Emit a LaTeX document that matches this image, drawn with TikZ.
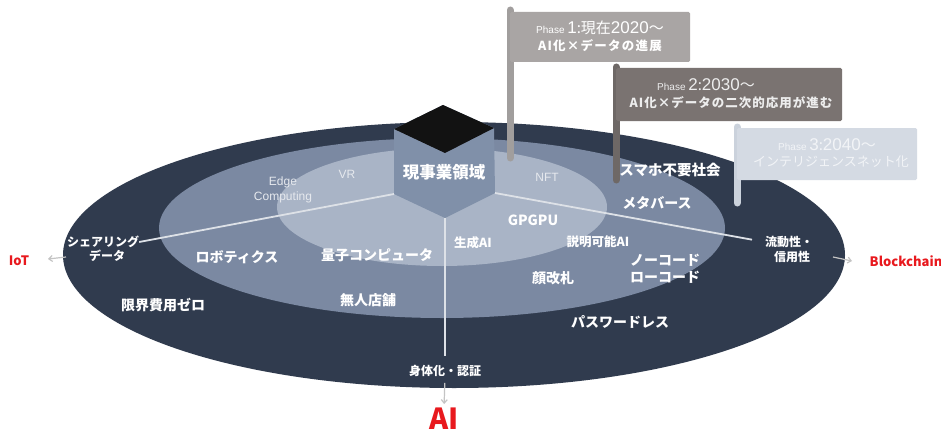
\documentclass[tikz,border=0pt]{standalone}
\usepackage{fontspec}
\setmainfont{Noto Sans CJK JP}
\newfontfamily\arialf{Liberation Sans}
\usetikzlibrary{arrows.meta}
\definecolor{outerc}{HTML}{303B4E}
\definecolor{midc}{HTML}{7B89A2}
\definecolor{hexc}{HTML}{8090A9}
\definecolor{lightc}{HTML}{A9B4C6}
\definecolor{spokec}{HTML}{DDE1E7}
\definecolor{arrc}{HTML}{C4C4C4}
\definecolor{redc}{HTML}{E8191E}
\definecolor{pA}{HTML}{A9A5A4}
\definecolor{pApole}{HTML}{A19E9D}
\definecolor{pB}{HTML}{7A7371}
\definecolor{pBpole}{HTML}{6E6866}
\definecolor{pC}{HTML}{D4DAE3}
\definecolor{pCpole}{HTML}{CBD2DC}
\definecolor{pCtext}{HTML}{F2F4F7}
\definecolor{latc}{HTML}{E6E9EE}
\newcommand{\fsz}[1]{\fontsize{#1}{#1}\selectfont}
\begin{document}
\begin{tikzpicture}[x=1pt,y=-1pt,
  lab/.style={text=white,font=\bfseries\fsz{14},inner sep=0pt},
  slab/.style={text=white,font=\bfseries\fsz{12.5},inner sep=0pt},
  lat/.style={text=latc,font=\arialf\fsz{12},inner sep=0pt},
  redlab/.style={text=redc,font=\bfseries\fsz{13},inner sep=0pt},
  spoke/.style={draw=spokec,line width=1.8pt},
  arr/.style={draw=arrc,line width=1.2pt,-{Straight Barb[length=3.5pt,width=6pt]}},
  pole/.style={line width=7pt,line cap=round},
  flagtxt/.style={inner sep=0pt,font=\fsz{13}}]
\useasboundingbox (0,0) rectangle (941,433);
\fill[white] (0,0) rectangle (941,433);

% ellipses
\fill[outerc] (454,255) ellipse [x radius=391, y radius=133];
\fill[midc] (442,228) ellipse [x radius=283, y radius=90];
\fill[lightc] (442,207) ellipse [x radius=165, y radius=59];

% cube
\coordinate (hexT) at (443,105);
\coordinate (hexTL) at (394,129);
\coordinate (hexTR) at (494,128);
\coordinate (hexC) at (445,153);
\coordinate (hexL) at (394,194);
\coordinate (hexB) at (445,218);
\coordinate (hexR) at (495,193);
\fill[hexc] (hexTL) -- (hexT) -- (hexTR) -- (hexR) -- (hexB) -- (hexL) -- cycle;
\fill[black!93] (hexTL) -- (hexT) -- (hexTR) -- (hexC) -- cycle;

% flags
\draw[pole,pApole] (510,10) -- (510,158);
\fill[pA,rounded corners=1.5pt] (510,12) rectangle (690,62);
\draw[pole,pBpole] (616,67) -- (616,180);
\fill[pB,rounded corners=1.5pt] (616,68) rectangle (842,121);
\draw[pole,pCpole] (737,127) -- (737,203);
\fill[pC,rounded corners=1.5pt] (737,128) rectangle (917,180);

\node[flagtxt,text=white] (p1a) at (600,28) {{\arialf\fsz{10}Phase }{\arialf\fsz{17}1}{\fsz{15}:現在}{\arialf\fsz{17}2020}{\fsz{15}〜}};
\node[flagtxt,text=white,font=\bfseries\fsz{12.5}\addfontfeature{LetterSpace=10}] (p1b) at (600,46) {AI化×データの進展};
\node[flagtxt,text=white!93!black] (p2a) at (706,85) {{\arialf\fsz{10}Phase }{\arialf\fsz{17}2}{\fsz{15}:}{\arialf\fsz{17}2030}{\fsz{15}〜}};
\node[flagtxt,text=white!93!black,font=\bfseries\fsz{12.5}\addfontfeature{LetterSpace=8}] (p2b) at (731,103) {AI化×データの二次的応用が進む};
\node[flagtxt,text=pCtext] (p3a) at (827,145) {{\arialf\fsz{10}Phase }{\arialf\fsz{17}3}{\fsz{15}:}{\arialf\fsz{17}2040}{\fsz{15}〜}};
\node[flagtxt,text=pCtext,font=\fsz{13}] (p3b) at (831,162) {インテリジェンスネット化};

% labels
\node[lab,font=\bfseries\fsz{16.5}] (core) at (444,172) {現事業領域};
\node[lat] (vr) at (347,174) {VR};
\node[lat] (edge1) at (283,182) {Edge};
\node[lat] (edge2) at (283,197) {Computing};
\node[lat] (nft) at (547,177) {NFT};
\node[lab] (gpgpu) at (533,220) {GPGPU};
\node[slab] (gen) at (473,243) {生成AI};
\node[slab] (xai) at (598,242) {説明可能AI};
\node[lab] (qc) at (377,255) {量子コンピュータ};
\node[lab] (face) at (553,278) {顔改札};
\node[lab] (store) at (368,300) {無人店舗};
\node[lab] (robo) at (237,257) {ロボティクス};
\node[lab,font=\bfseries\fsz{14.5}] (smart) at (670,170) {スマホ不要社会};
\node[lab] (meta) at (657,203) {メタバース};
\node[lab] (nocode) at (665,260) {ノーコード};
\node[lab] (lowcode) at (665,277) {ローコード};
\node[lab] (zero) at (163,305) {限界費用ゼロ};
\node[lab] (pw) at (620,322) {パスワードレス};
\node[slab,font=\bfseries\fsz{12}] (share1) at (103,242) {シェアリング};
\node[slab,font=\bfseries\fsz{12}] (share2) at (107,256) {データ};
\node[slab,font=\bfseries\fsz{12}] (liq1) at (789,242) {流動性・};
\node[slab,font=\bfseries\fsz{12}] (liq2) at (792,257) {信用性};
\node[slab,font=\bfseries\fsz{12}] (body) at (445,371) {身体化・認証};

\node[redlab] (iot) at (19,261) {IoT};
\node[redlab] (bc) at (906,261) {Blockchain};
\node[redlab,font=\bfseries\fsz{29}] (ai) at (444,419) {AI};

% spokes
\draw[spoke] (hexL) -- (share1.east);
\draw[spoke,shorten >=13pt] (hexR) -- (liq1.west);
\draw[spoke,shorten >=9pt] (hexB) -- (body.north);

% arrows
\coordinate (iotA) at (66,257);
\coordinate (iotB) at (48,259);
\draw[arr] (iotA) -- (iotB);
\coordinate (bcA) at (833,257);
\coordinate (bcB) at (852,261);
\draw[arr] (bcA) -- (bcB);
\draw[arr,shorten <=6pt,shorten >=4pt] (body.south) -- (ai.north);
\end{tikzpicture}
\end{document}
